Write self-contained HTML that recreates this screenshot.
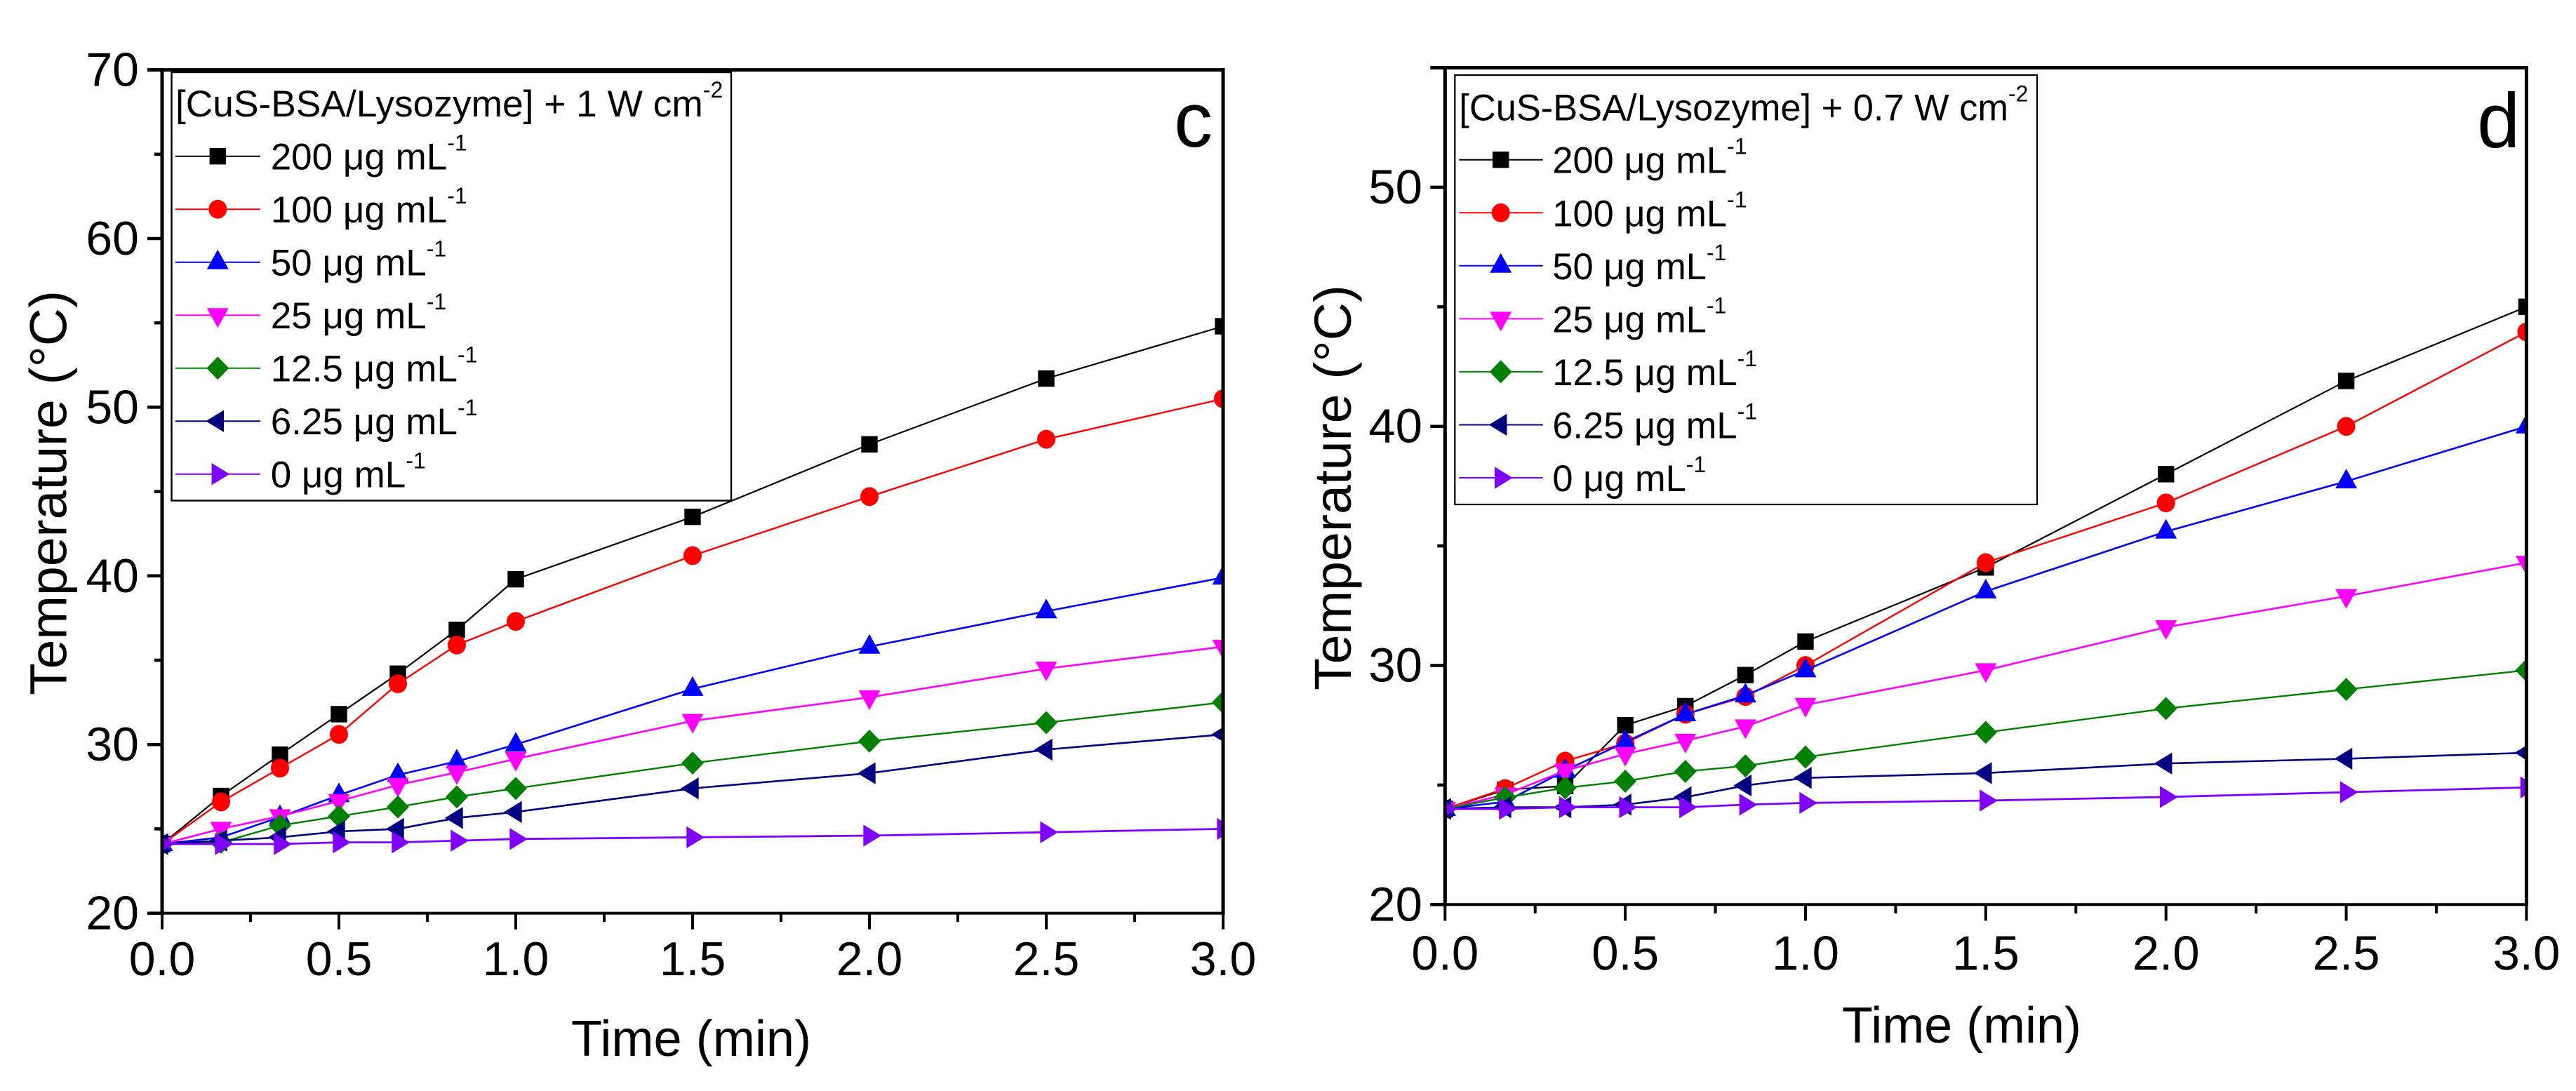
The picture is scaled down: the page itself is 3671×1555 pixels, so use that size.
<!DOCTYPE html>
<html lang="en">
<head>
<meta charset="utf-8">
<title>Temperature vs time for CuS-BSA/Lysozyme</title>
<style>
html,body{margin:0;padding:0;background:#fff;width:3671px;height:1555px;overflow:hidden}
svg{display:block;font-family:"Liberation Sans",sans-serif;fill:#000}
</style>
</head>
<body>
<svg id="figure" xmlns="http://www.w3.org/2000/svg" width="3671" height="1555" viewBox="0 0 3671 1555">
  <defs>
    <clipPath id="clip-c"><rect x="231" y="99" width="1512" height="1203"/></clipPath>
    <clipPath id="clip-d"><rect x="2059" y="96" width="1541.5" height="1193.5"/></clipPath>
  </defs>
  <rect width="3671" height="1555" fill="#fff"/>
  <g id="chart-c">
    <g id="marks-c" clip-path="url(#clip-c)"></g>
    <g id="legend-c">
      <rect x="244.5" y="103" width="797.5" height="610.5" fill="#fff" stroke="#000" stroke-width="2.4"/>
      <text x="250" y="166" font-size="53.3">[CuS-BSA/Lysozyme] + 1 W cm<tspan font-size="32" dy="-27">-2</tspan></text>
    </g>
    <g id="axes-c"></g>
    <text transform="translate(94.4 991) rotate(-90)" font-size="74" textLength="577" lengthAdjust="spacingAndGlyphs">Temperature (°C)</text>
    <text x="814" y="1505" font-size="72" textLength="342" lengthAdjust="spacingAndGlyphs">Time (min)</text>
    <text x="1673" y="209" font-size="110">c</text>
  </g>
  <g id="chart-d">
    <g id="marks-d" clip-path="url(#clip-d)"></g>
    <g id="legend-d">
      <rect x="2073.3" y="107" width="829.7" height="612" fill="#fff" stroke="#000" stroke-width="2.2"/>
      <text x="2079.3" y="171.7" font-size="52.4">[CuS-BSA/Lysozyme] + 0.7 W cm<tspan font-size="32" dy="-27">-2</tspan></text>
    </g>
    <g id="axes-d"></g>
    <text transform="translate(1925 984) rotate(-90)" font-size="74" textLength="578" lengthAdjust="spacingAndGlyphs">Temperature (°C)</text>
    <text x="2625" y="1486" font-size="72" textLength="341" lengthAdjust="spacingAndGlyphs">Time (min)</text>
    <text x="3530" y="210" font-size="110">d</text>
  </g>
</svg>
<script>
// Shared data
const timeMinutes = [0, 0.1667, 0.3333, 0.5, 0.6667, 0.8333, 1, 1.5, 2, 2.5, 3];
const seriesLabels = ['200', '100', '50', '25', '12.5', '6.25', '0'];
const seriesColors = ['#000000', '#ff0000', '#0000ff', '#ff00ff', '#008000', '#000080', '#8000ff'];
const seriesWidths = [2.2, 2.4, 2.6, 2.6, 2.4, 2.6, 2.8];
const seriesShapes = ['square', 'circle', 'up', 'down', 'diamond', 'left', 'right'];
const xTickLabels = ['0.0', '0.5', '1.0', '1.5', '2.0', '2.5', '3.0'];
const xMinorTicks = [0.25, 0.75, 1.25, 1.75, 2.25, 2.75];

// Panel c values (1 W/cm2)
const c200 = [24.1, 26.95, 29.4, 31.8, 34.2, 36.8, 39.8, 43.5, 47.8, 51.7, 54.8];
const c100 = [24.1, 26.6, 28.6, 30.6, 33.6, 35.9, 37.3, 41.2, 44.7, 48.1, 50.5];
const c50 = [24.1, 24.5, 25.7, 27.0, 28.2, 29.0, 30.0, 33.3, 35.8, 37.9, 39.9];
const c25 = [24.1, 25.0, 25.75, 26.65, 27.6, 28.35, 29.15, 31.4, 32.8, 34.5, 35.8];
const c12 = [24.1, 24.2, 25.2, 25.75, 26.3, 26.9, 27.4, 28.9, 30.2, 31.3, 32.5];
const c6 = [24.1, 24.3, 24.5, 24.85, 25.0, 25.65, 26.0, 27.4, 28.3, 29.7, 30.6];
const c0 = [24.1, 24.1, 24.1, 24.2, 24.2, 24.3, 24.4, 24.5, 24.6, 24.8, 25.0];
const cYMajorLabels = [20, 30, 40, 50, 60, 70];
const cYMinorTicks = [25, 35, 45, 55, 65];

// Panel d values (0.7 W/cm2)
const d200 = [24.0, 24.8, 24.96, 27.5, 28.3, 29.6, 31.0, 34.1, 38.0, 41.9, 45.0];
const d100 = [24.0, 24.85, 26.0, 26.75, 27.96, 28.7, 30.0, 34.3, 36.8, 40.0, 43.95];
const d50 = [24.0, 24.3, 25.6, 26.8, 27.96, 28.75, 29.8, 33.1, 35.6, 37.7, 40.0];
const d25 = [24.0, 24.6, 25.6, 26.3, 26.85, 27.45, 28.35, 29.8, 31.6, 32.9, 34.3];
const d12 = [24.0, 24.48, 24.88, 25.16, 25.57, 25.8, 26.17, 27.2, 28.2, 29.0, 29.8];
const d6 = [24.0, 24.07, 24.07, 24.18, 24.49, 24.98, 25.3, 25.5, 25.9, 26.1, 26.35];
const d0 = [24.0, 24.0, 24.07, 24.07, 24.07, 24.18, 24.25, 24.35, 24.5, 24.7, 24.9];
const dYMajorLabels = [20, 30, 40, 50];
const dYMinorTicks = [25, 35, 45];

const SVGNS = 'http://www.w3.org/2000/svg';
function make(tag, attrs, parent) {
  const el = document.createElementNS(SVGNS, tag);
  for (const k in attrs) el.setAttribute(k, attrs[k]);
  parent.appendChild(el);
  return el;
}

// Axis functions
function xScaleC(v) { return 231 + v * 504; }
function yScaleC(v) { return 1301.6 - (v - 20) * 24.04; }
function xScaleD(v) { return 2059.3 + v * 513.7; }
function yScaleD(v) { return 1289.3 - (v - 20) * 34.08; }

function drawMarker(shape, cx, cy, color, parent, name) {
  let el;
  if (shape === 'square') {
    el = make('rect', { x: cx - 11.7, y: cy - 11.7, width: 23.4, height: 23.4, fill: color }, parent);
  } else if (shape === 'circle') {
    el = make('ellipse', { cx: cx, cy: cy, rx: 13, ry: 13.4, fill: color }, parent);
  } else {
    let pts;
    if (shape === 'up') pts = [[cx, cy - 18], [cx + 15.5, cy + 10], [cx - 15.5, cy + 10]];
    if (shape === 'down') pts = [[cx, cy + 18], [cx + 15.5, cy - 10], [cx - 15.5, cy - 10]];
    if (shape === 'diamond') pts = [[cx, cy - 16.5], [cx + 16, cy], [cx, cy + 16.5], [cx - 16, cy]];
    if (shape === 'left') pts = [[cx - 17, cy], [cx + 8.7, cy - 15.7], [cx + 8.7, cy + 15.7]];
    if (shape === 'right') pts = [[cx + 17, cy], [cx - 8.7, cy - 15.7], [cx - 8.7, cy + 15.7]];
    el = make('polygon', { points: pts.map(p => p.join(',')).join(' '), fill: color }, parent);
  }
  
  
  return el;
}

function drawSeries(panel, values, index, xs, ys, parent) {
  const color = seriesColors[index];
  const label = seriesLabels[index];
  const line = make('polyline', {
    points: values.map((v, i) => xs(timeMinutes[i]) + ',' + ys(v)).join(' '),
    fill: 'none', stroke: color, 'stroke-width': seriesWidths[index]
  }, parent);
  
  
  values.forEach((v, i) => {
    drawMarker(seriesShapes[index], xs(timeMinutes[i]), ys(v), color, parent, 'point-' + panel + '-' + label + '-' + i);
  });
}

function drawAxes(panel, xs, ys, yMajor, yMinor, yTop, labelRight, xBaseline, fontSize, parent) {
  const left = xs(0), right = xs(3), bottom = ys(20), top = ys(yTop);
  const vertical = make('path', {
    d: 'M' + left + ' ' + (bottom + 2) + 'V' + (top - 2.5) + 'M' + right + ' ' + (top - 2.5) + 'V' + (bottom + 2),
    stroke: '#000', 'stroke-width': 5, fill: 'none'
  }, parent);
  
  
  const topLine = make('line', { x1: left - 21, x2: right + 2.5, y1: top, y2: top, stroke: '#000', 'stroke-width': 5 }, parent);
  
  
  const bottomLine = make('line', { x1: left - 21, x2: right + 2.5, y1: bottom, y2: bottom, stroke: '#000', 'stroke-width': 4 }, parent);
  
  
  xTickLabels.forEach(label => {
    const v = parseFloat(label);
    const tick = make('line', { x1: xs(v), x2: xs(v), y1: bottom, y2: bottom + 23, stroke: '#000', 'stroke-width': 4 }, parent);
    
    
    const text = make('text', { x: xs(v), y: xBaseline, 'font-size': fontSize, 'text-anchor': 'middle' }, parent);
    text.textContent = label;
    
    
  });
  xMinorTicks.forEach(v => {
    const tick = make('line', { x1: xs(v), x2: xs(v), y1: bottom, y2: bottom + 12.5, stroke: '#000', 'stroke-width': 4 }, parent);
    
    
  });
  yMajor.forEach(v => {
    const tick = make('line', { x1: left - 21, x2: left, y1: ys(v), y2: ys(v), stroke: '#000', 'stroke-width': 4.5 }, parent);
    
    
    const text = make('text', { x: labelRight, y: ys(v) + 23, 'font-size': fontSize, 'text-anchor': 'end' }, parent);
    text.textContent = String(v);
    
    
  });
  yMinor.forEach(v => {
    const tick = make('line', { x1: left - 11, x2: left, y1: ys(v), y2: ys(v), stroke: '#000', 'stroke-width': 4.5 }, parent);
    
    
  });
}

function drawLegend(panel, rowStart, rowGap, lineStart, lineEnd, markerX, textX, fontSize, parent) {
  seriesLabels.forEach((label, i) => {
    const y = rowStart + i * rowGap;
    const line = make('line', { x1: lineStart, x2: lineEnd, y1: y, y2: y, stroke: seriesColors[i], 'stroke-width': 2 }, parent);
    
    
    drawMarker(seriesShapes[i], markerX, y, seriesColors[i], parent, 'legend-marker-' + panel + '-' + label);
    const text = make('text', { x: textX, y: y + 19, 'font-size': fontSize }, parent);
    text.appendChild(document.createTextNode(label + ' \u03bcg mL'));
    const sup = make('tspan', { 'font-size': 32, dy: -27 }, text);
    sup.textContent = '-1';
    
    
  });
}

const marksC = document.getElementById('marks-c');
[c200, c100, c50, c25, c12, c6, c0].forEach((vals, i) => drawSeries('c', vals, i, xScaleC, yScaleC, marksC));
const marksD = document.getElementById('marks-d');
[d200, d100, d50, d25, d12, d6, d0].forEach((vals, i) => drawSeries('d', vals, i, xScaleD, yScaleD, marksD));

drawAxes('c', xScaleC, yScaleC, cYMajorLabels, cYMinorTicks, 70, 198, 1390, 68, document.getElementById('axes-c'));
drawAxes('d', xScaleD, yScaleD, dYMajorLabels, dYMinorTicks, 55, 2027, 1382, 69, document.getElementById('axes-d'));

drawLegend('c', 222.7, 75.5, 250, 371, 310.3, 385.7, 53, document.getElementById('legend-c'));
drawLegend('d', 227.7, 75.55, 2079.3, 2198.7, 2138.7, 2212.4, 52.4, document.getElementById('legend-d'));
</script>
</body>
</html>
